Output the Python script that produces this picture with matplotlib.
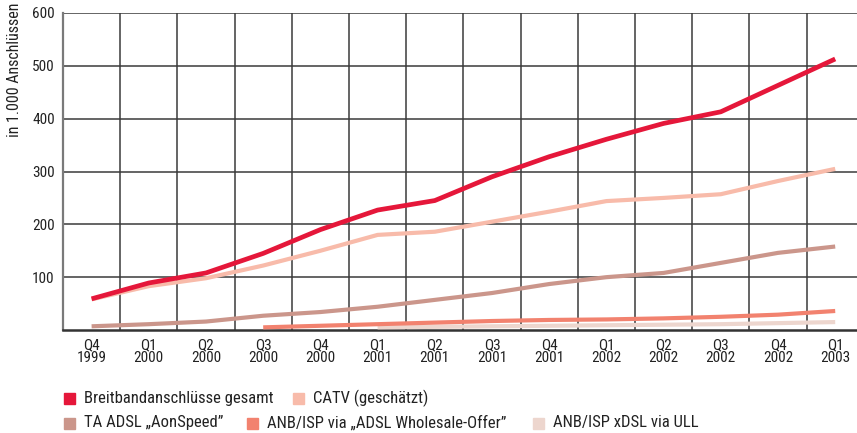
import matplotlib.pyplot as plt
from matplotlib.patches import Rectangle

plt.rcParams['font.family'] = ['Roboto Condensed', 'DejaVu Sans']

quartale = ['Q4\n1999', 'Q1\n2000', 'Q2\n2000', 'Q3\n2000', 'Q4\n2000',
            'Q1\n2001', 'Q2\n2001', 'Q3\n2001', 'Q4\n2001',
            'Q1\n2002', 'Q2\n2002', 'Q3\n2002', 'Q4\n2002', 'Q1\n2003']

gesamt = [59, 89, 108, 145, 190, 227, 245, 290, 328, 361, 391, 413, 463, 513]
catv = [58, 83, 98, 122, 150, 180, 186, 205, 224, 244, 250, 257, 282, 305]
ta_adsl = [7, 11, 16, 27, 34, 44, 57, 70, 87, 100, 108, 127, 146, 158]
# beginnt erst Q3 2000
wholesale = [None, None, None, 5, 8, 11, 14, 17, 19, 20, 22, 25, 29, 36]
# beginnt erst Q1 2001
ull = [None, None, None, None, None, 5, 6, 7, 8, 9, 10, 11, 13, 15]

farben = {
    'gesamt': '#E5173A',
    'catv': '#F8BBAA',
    'ta': '#CB968B',
    'wholesale': '#F2826F',
    'ull': '#EDD6CE',
}

fig = plt.figure(figsize=(8.57, 4.33), dpi=100)
W, H = 857, 433
x0, y0, y1 = 63, 330, 13
ax = fig.add_axes([x0 / W, 1 - y0 / H, 1 - x0 / W, (y0 - y1) / H])

x = list(range(len(quartale)))


def serie(werte):
    xs = [i for i, v in zip(x, werte) if v is not None]
    ys = [v for v in werte if v is not None]
    return xs, ys


lw = 3.0
ax.plot(*serie(ull), color=farben['ull'], lw=lw, solid_capstyle='butt', zorder=3)
ax.plot(*serie(wholesale), color=farben['wholesale'], lw=lw, solid_capstyle='butt', zorder=4)
ax.plot(*serie(ta_adsl), color=farben['ta'], lw=lw, solid_capstyle='butt', zorder=5)
ax.plot(*serie(catv), color=farben['catv'], lw=lw, solid_capstyle='butt', zorder=6)
ax.plot(*serie(gesamt), color=farben['gesamt'], lw=3.4, solid_capstyle='butt', zorder=7)

schritt = 57.2
ax.set_xlim(-0.5, (W - x0) / schritt - 0.5)
ax.set_ylim(0, 600)

# Gitter
for k in range(1, len(quartale) + 1):
    ax.axvline(k - 0.5, color='#3a3a3a', lw=1.1, zorder=1)
for v in range(100, 601, 100):
    ax.axhline(v, color='#3a3a3a', lw=1.1, zorder=1)

ax.set_xticks(x)
ax.set_xticklabels(quartale, fontsize=11, color='#222222', linespacing=0.92)
ax.set_yticks(range(100, 601, 100))
ax.set_yticklabels([str(v) for v in range(100, 601, 100)], fontsize=11, color='#222222')
ax.tick_params(axis='x', length=0, pad=6)
ax.tick_params(axis='y', length=0, pad=6)

for s in ['top', 'right']:
    ax.spines[s].set_visible(False)
ax.spines['left'].set_color('#7a7a7a')
ax.spines['left'].set_linewidth(1.6)
ax.spines['bottom'].set_color('#333333')
ax.spines['bottom'].set_linewidth(1.8)

fig.text(15 / W, 1 - 3 / H, 'in 1.000 Anschlüssen', rotation=90, va='top', ha='center',
         fontsize=11.5, color='#222222')

# Legende
eintraege = [
    (64, 398, farben['gesamt'], 'Breitbandanschlüsse gesamt'),
    (293, 398, farben['catv'], 'CATV (geschätzt)'),
    (64, 423, farben['ta'], 'TA ADSL „AonSpeed”'),
    (247, 423, farben['wholesale'], 'ANB/ISP via „ADSL Wholesale-Offer”'),
    (533, 423, farben['ull'], 'ANB/ISP xDSL via ULL'),
]
for px, py, c, txt in eintraege:
    fig.add_artist(Rectangle((px / W, 1 - (py + 5.5) / H), 11 / W, 11 / H,
                             transform=fig.transFigure, color=c))
    fig.text((px + 20) / W, 1 - py / H, txt, va='center', ha='left',
             fontsize=12, color='#222222')

fig.savefig('out.png', dpi=100)
